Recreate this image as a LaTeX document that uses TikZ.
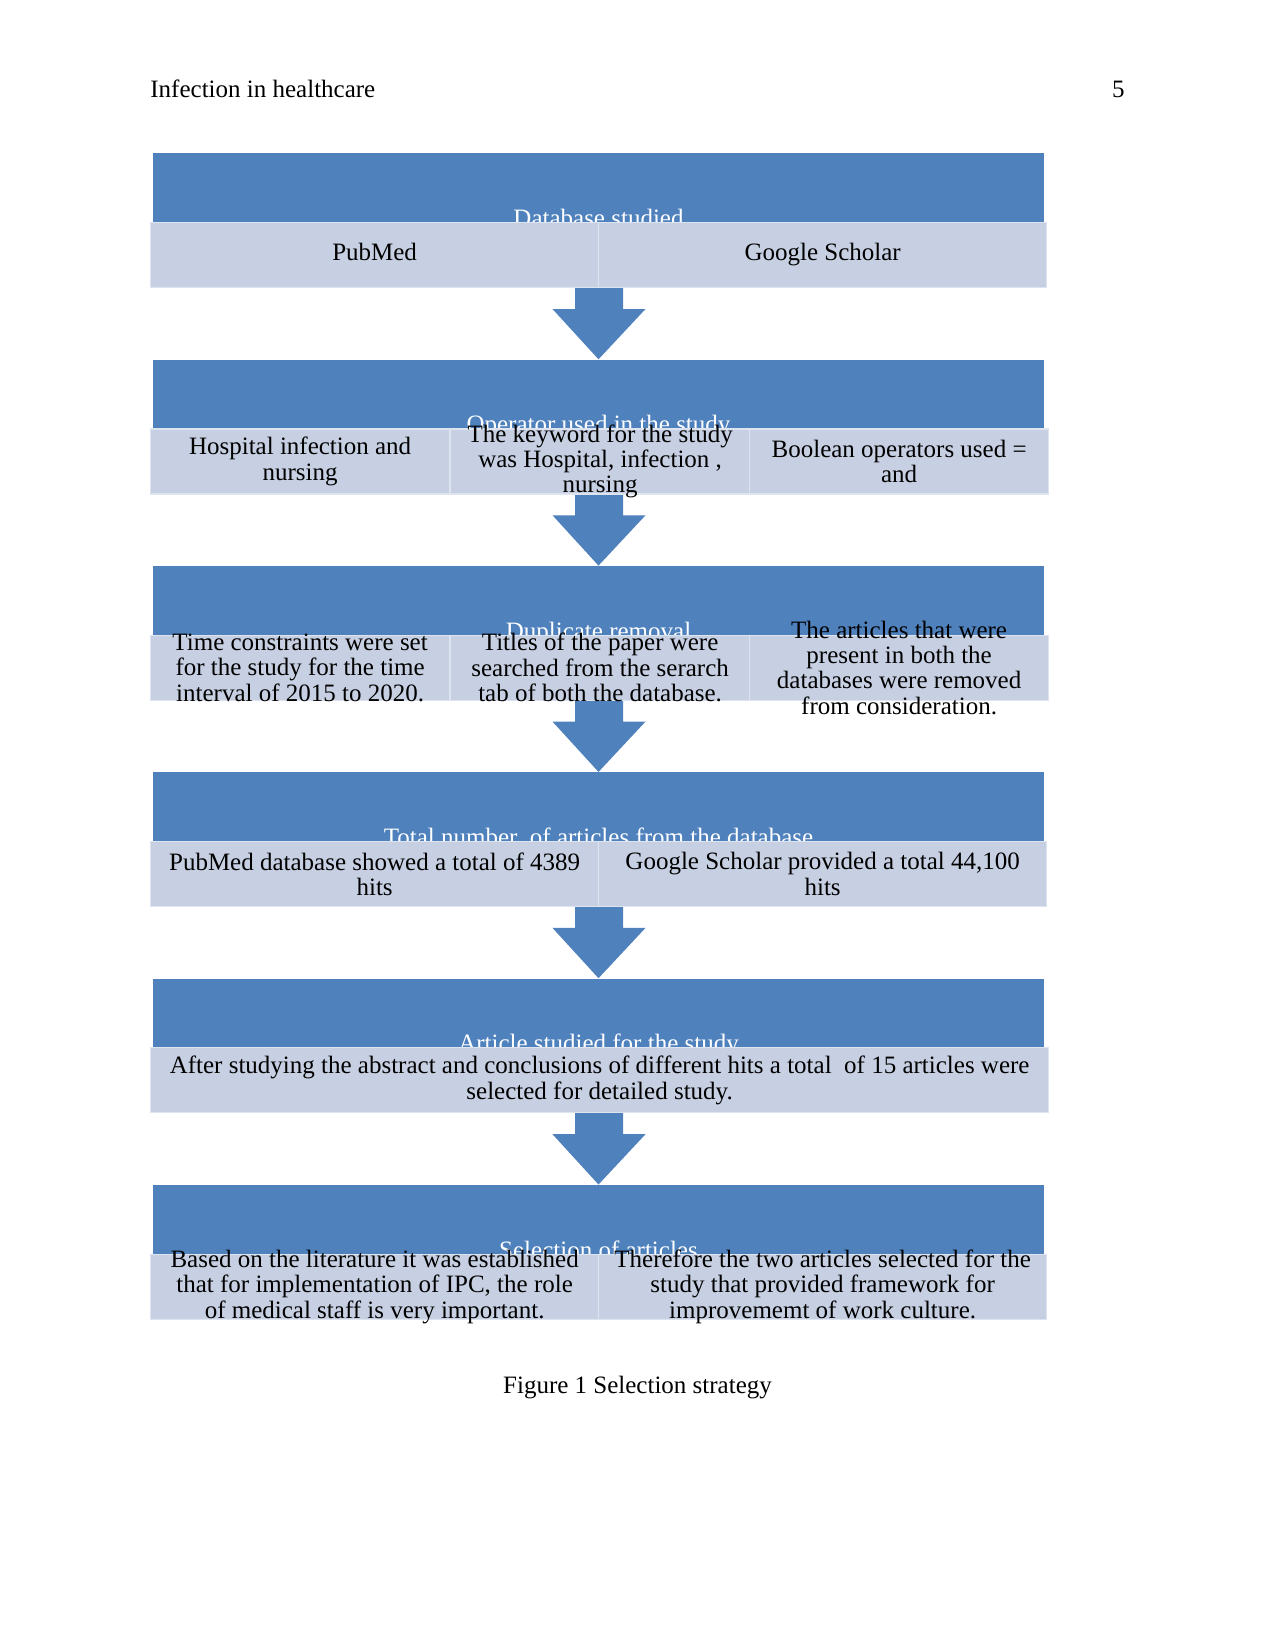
\documentclass[tikz,border=0pt]{standalone}
\usepackage{fontspec}
\setmainfont{Liberation Serif}
\usetikzlibrary{calc}
\definecolor{hdrblue}{RGB}{79,129,189}
\definecolor{cellfill}{RGB}{199,208,226}
\definecolor{celledge}{RGB}{222,228,239}
\newcommand{\blockarrow}[2]{%
  \fill[hdrblue] ($(#1)+(-24,0)$) -- ($(#1)+(24,0)$) -- ($(#1)+(24,22)$) -- ($(#1)+(46.5,22)$)
    -- (#2) -- ($(#1)+(-46.5,22)$) -- ($(#1)+(-24,22)$) -- cycle;}
\begin{document}
\begin{tikzpicture}[x=0.48pt,y=-0.48pt,
  txt/.style={font=\fontsize{12}{12.2}\selectfont, inner sep=0pt, align=center},
  hdr/.style={fill=hdrblue, draw=none, minimum width=891*0.48pt, minimum height=69*0.48pt, inner sep=0pt, anchor=north},
  hdrtext/.style={txt, text=white, anchor=base},
  cell/.style={fill=cellfill, draw=celledge, line width=0.6pt, minimum height=65*0.48pt, inner sep=0pt, anchor=north west},
  cell2/.style={cell, minimum width=448*0.48pt},
  cell3/.style={cell, minimum width=299*0.48pt},
  cell1/.style={cell, minimum width=898*0.48pt},
  celltext/.style={txt, text=black}
]
\path[use as bounding box, fill=white] (0,0) rectangle (1275,1651);

% page header and caption
\node[txt, anchor=base west] (runhead) at (150,98) {Infection in healthcare};
\node[txt, anchor=base east] (pagenum) at (1125,98) {5};

% headers
\node[hdr] (h1) at (598.5,153) {};
\node[hdr] (h2) at (598.5,359.3) {};
\node[hdr] (h3) at (598.5,565.6) {};
\node[hdr] (h4) at (598.5,771.9) {};
\node[hdr] (h5) at (598.5,978.2) {};
\node[hdr] (h6) at (598.5,1184.5) {};

% arrow start coordinates
\coordinate (r1) at (599,287);
\coordinate (r2) at (599,493.3);
\coordinate (r3) at (599,699.6);
\coordinate (r4) at (599,905.9);
\coordinate (r5) at (599,1112.2);

\blockarrow{r1}{h2.north}
\blockarrow{r2}{h3.north}
\blockarrow{r3}{h4.north}
\blockarrow{r4}{h5.north}
\blockarrow{r5}{h6.north}

% header texts
\node[hdrtext] (ht1) at (598.5,226.5) {Database studied};
\node[hdrtext] (ht2) at (598.5,432.8) {Operator used in the study};
\node[hdrtext] (ht3) at (598.5,639.1) {Duplicate removal};
\node[hdrtext] (ht4) at (598.5,845.4) {Total number\ \ of articles from the database};
\node[hdrtext] (ht5) at (598.5,1051.7) {Article studied for the study};
\node[hdrtext] (ht6) at (598.5,1258) {Selection of articles};

% row 1
\node[cell2] (c1a) at (150,222) {};
\node[cell2] (c1b) at (598,222) {};
\node[celltext] at (c1a.center) {\strut PubMed};
\node[celltext] at (c1b.center) {\strut Google Scholar};

% row 2
\node[cell3] (c2a) at (150,428.3) {};
\node[cell3] (c2b) at (450,428.3) {};
\node[cell3] (c2c) at (749,428.3) {};
\node[celltext] at (c2a.center) {Hospital infection and\\nursing};
\node[celltext] at (c2b.center) {The keyword for the study\\was Hospital, infection ,\\nursing};
\node[celltext] at (c2c.center) {Boolean operators used =\\and};

% row 3
\node[cell3] (c3a) at (150,634.6) {};
\node[cell3] (c3b) at (450,634.6) {};
\node[cell3] (c3c) at (749,634.6) {};
\node[celltext] at (c3a.center) {Time constraints were set\\for the study for the time\\interval of 2015 to 2020.};
\node[celltext] at (c3b.center) {Titles of the paper were\\searched from the serarch\\tab of both the database.};
\node[celltext] at (c3c.center) {The articles that were\\present in both the\\databases were removed\\from consideration.};

% row 4
\node[cell2] (c4a) at (150,840.9) {};
\node[cell2] (c4b) at (598,840.9) {};
\node[celltext] at (c4a.center) {PubMed database showed a total of 4389\\hits};
\node[celltext] at (c4b.center) {Google Scholar provided a total 44,100\\hits};

% row 5
\node[cell1] (c5a) at (150,1047.2) {};
\node[celltext] at (c5a.center) {After studying the abstract and conclusions of different hits a total\ \ of 15 articles were\\selected for detailed study.};

% row 6
\node[cell2] (c6a) at (150,1253.5) {};
\node[cell2] (c6b) at (598,1253.5) {};
\node[celltext] at (c6a.center) {Based on the literature it was established\\that for implementation of IPC, the role\\of medical staff is very important.};
\node[celltext] at (c6b.center) {Therefore the two articles selected for the\\study that provided framework for\\improvememt of work culture.};

\node[txt, anchor=base] (caption) at (637.5,1393) {Figure 1 Selection strategy};
\end{tikzpicture}
\end{document}
